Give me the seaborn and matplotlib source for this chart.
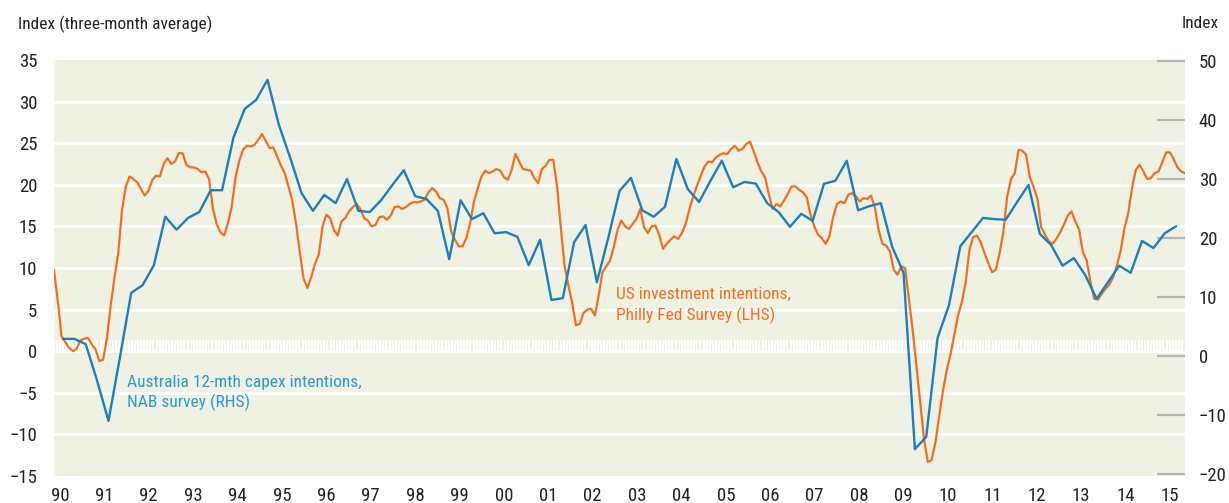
import matplotlib
matplotlib.use("Agg")
import matplotlib.pyplot as plt
from matplotlib import font_manager
import numpy as np
import pandas as pd
import seaborn as sns

# US investment intentions, Philly Fed survey, three-month average (LHS), monthly
us_capex = [
    9.8, 6.1, 1.8, 1.1, 0.4, 0.0, 0.3, 1.3, 1.5, 1.6, 0.8, 0.2, -1.2, -1.0, 1.5, 5.5, 8.8, 11.8, 17.0, 19.8,
    21.0, 20.7, 20.3, 19.5, 18.7, 19.3, 20.6, 21.1, 21.0, 22.5, 23.2, 22.5, 22.8, 23.8, 23.8, 22.4, 22.1, 22.1, 21.9, 21.5,
    21.6, 20.7, 17.2, 15.3, 14.3, 13.9, 15.4, 17.4, 20.9, 22.9, 24.2, 24.7, 24.6, 24.8, 25.4, 26.1, 25.3, 24.4, 24.5, 23.4,
    22.3, 21.4, 19.8, 18.1, 15.3, 11.9, 8.7, 7.6, 8.9, 10.5, 11.6, 15.0, 16.4, 16.0, 14.6, 13.9, 15.6, 16.0, 16.8, 17.3,
    17.7, 17.1, 16.0, 15.7, 15.0, 15.2, 16.1, 16.2, 15.8, 16.3, 17.3, 17.4, 17.1, 17.3, 17.7, 17.9, 17.9, 18.0, 18.2, 19.1,
    19.6, 19.2, 18.4, 18.2, 17.2, 14.4, 13.4, 12.6, 12.6, 13.6, 15.3, 17.9, 19.5, 21.0, 21.7, 21.4, 21.6, 21.9, 21.7, 20.9,
    20.6, 21.8, 23.7, 22.8, 21.9, 21.8, 21.7, 20.8, 20.2, 21.9, 22.3, 23.0, 23.0, 19.8, 14.8, 10.2, 7.9, 5.8, 3.1, 3.3,
    4.6, 5.0, 5.1, 4.3, 6.7, 9.5, 10.2, 10.9, 12.5, 14.6, 15.7, 15.0, 14.7, 15.3, 15.9, 17.1, 14.9, 14.2, 15.0, 15.1,
    14.0, 12.3, 12.9, 13.4, 13.8, 13.5, 14.2, 15.3, 17.1, 18.6, 19.9, 21.1, 22.2, 22.8, 22.7, 23.3, 23.6, 23.8, 23.7, 24.3,
    24.7, 24.1, 24.3, 24.9, 25.2, 24.0, 22.7, 21.6, 20.9, 18.8, 17.1, 17.7, 17.4, 18.1, 18.9, 19.8, 19.8, 19.4, 19.1, 18.5,
    16.4, 15.0, 14.0, 13.6, 12.9, 13.8, 16.2, 17.7, 18.0, 17.8, 18.8, 19.0, 18.6, 18.0, 18.4, 18.3, 18.7, 17.3, 14.6, 12.9,
    12.7, 12.0, 9.8, 9.2, 10.2, 10.0, 6.3, 2.6, -1.8, -6.2, -10.5, -13.3, -13.1, -11.0, -7.9, -4.8, -2.3, -0.4, 1.9, 4.3,
    5.9, 8.2, 12.2, 13.7, 13.9, 13.1, 11.8, 10.6, 9.5, 9.8, 11.8, 14.4, 18.6, 20.7, 21.4, 24.2, 24.1, 23.6, 20.9, 19.7,
    18.3, 14.9, 14.0, 13.2, 12.9, 13.5, 14.3, 15.2, 16.3, 16.8, 15.6, 14.6, 11.9, 10.9, 8.4, 6.3, 6.2, 6.9, 7.5, 8.0,
    8.9, 10.3, 12.1, 14.8, 16.6, 19.6, 21.8, 22.4, 21.6, 20.7, 20.8, 21.4, 21.6, 22.7, 23.9, 23.9, 23.1, 22.1, 21.6, 21.4,
]
us_first, us_last = 1989.865, 2015.34

# Australia 12-mth capex intentions, NAB survey (RHS), quarterly
au_capex = [
    2.9, 2.9, 2.0, -4.2, -11.0, -0.3, 10.7, 12.0, 15.4, 23.6, 21.4, 23.4, 24.4, 28.1, 28.1, 37.0, 41.9, 43.4, 46.8, 39.2,
    33.6, 27.6, 24.6, 27.3, 25.9, 30.0, 24.6, 24.4, 26.4, 29.0, 31.5, 27.1, 26.6, 24.6, 16.4, 26.4, 23.2, 24.2, 20.8, 21.0,
    20.2, 15.4, 19.7, 9.5, 9.8, 19.3, 22.2, 12.5, 20.0, 28.0, 30.2, 24.7, 23.6, 25.3, 33.4, 28.3, 26.1, 29.7, 33.1, 28.6,
    29.5, 29.2, 25.9, 24.4, 21.9, 24.1, 22.9, 29.2, 29.7, 33.1, 24.7, 25.4, 25.9, 18.5, 14.1, -15.8, -13.7, 3.1, 8.6, 18.6,
    21.0, 23.4, 23.2, 23.1, 26.1, 29.0, 20.7, 18.8, 15.3, 16.6, 13.7, 9.7, 12.5, 15.3, 14.1, 19.5, 18.3, 20.8, 22.0,
]
au_first, au_last = 1990.07, 2015.14

year_ticks = list(range(1990, 2016))
year_labels = [f"{y % 100:02d}" for y in year_ticks]
left_ticks = list(range(-15, 40, 5))
right_ticks = list(range(-20, 60, 10))

ORANGE = "#f26f21"
BLUE = "#1b7fc1"
BLUE_TEXT = "#2a9ad4"
BG = "#eff2e2"
TICK_GREY = "#b5b5b5"
INK = "#222222"

sns.set_theme(style="white")

# the original uses a condensed grotesque; take a narrow face if one is installed
installed = {f.name for f in font_manager.fontManager.ttflist}
narrow = [n for n in ("Liberation Sans Narrow", "Roboto Condensed", "Open Sans Condensed") if n in installed]
if narrow:
    plt.rcParams["font.family"] = [narrow[0], "DejaVu Sans"]
    tick_size, text_size = 13.5, 12.5
else:
    plt.rcParams["font.family"] = ["Liberation Sans", "DejaVu Sans"]
    tick_size, text_size = 12.5, 11.5

us = pd.DataFrame({"date": np.linspace(us_first, us_last, len(us_capex)), "value": us_capex})
au = pd.DataFrame({"date": np.linspace(au_first, au_last, len(au_capex)), "value": au_capex})

fig = plt.figure(figsize=(12.29, 5.03), dpi=100)
ax = fig.add_axes([0.0439, 0.0537, 0.9203, 0.8270])
ax.set_facecolor(BG)
ax2 = ax.twinx()

# white grid and the hatched zero line
for t in left_ticks[1:-1]:
    ax.axhline(t, color="white", lw=2.0, zorder=1)
ax.vlines(np.arange(us_first, us_last, 0.07), 0, 1.3, color="white", lw=1.5, zorder=1)

sns.lineplot(data=us, x="date", y="value", ax=ax, color=ORANGE, lw=1.6, zorder=3)
sns.lineplot(data=au, x="date", y="value", ax=ax2, color=BLUE, lw=1.7, zorder=3)

ax.set_xlim(us_first, us_last)
ax.set_ylim(-15, 35)
ax2.set_ylim(-20.34, 50.17)

ax.set_xticks(year_ticks, year_labels)
ax.set_yticks(left_ticks)
ax2.set_yticks(right_ticks)
ax.set_xlabel("")
ax.set_ylabel("")
ax2.set_ylabel("")
ax.grid(False)
ax2.grid(False)

ax.tick_params(axis="x", length=0, pad=8, labelsize=tick_size, colors=INK)
ax.tick_params(axis="y", length=0, pad=12, labelsize=tick_size, colors=INK)
ax2.tick_params(axis="y", direction="in", length=20, width=1.6, color=TICK_GREY,
                pad=10, labelsize=tick_size, labelcolor=INK)

for a in (ax, ax2):
    for s in a.spines.values():
        s.set_visible(False)

ax.text(2002.53, 5.5, "US investment intentions,\nPhilly Fed Survey (LHS)",
        color=ORANGE, fontsize=text_size, ha="left", va="center", linespacing=1.3)
ax.text(1991.51, -5.0, "Australia 12-mth capex intentions,\nNAB survey (RHS)",
        color=BLUE_TEXT, fontsize=text_size, ha="left", va="center", linespacing=1.3)

fig.text(18 / 1229, 1 - 24 / 503, "Index (three-month average)", fontsize=text_size,
         color=INK, ha="left", va="center")
fig.text(1219 / 1229, 1 - 24 / 503, "Index", fontsize=text_size, color=INK, ha="right", va="center")

fig.savefig("out.png", dpi=100)
